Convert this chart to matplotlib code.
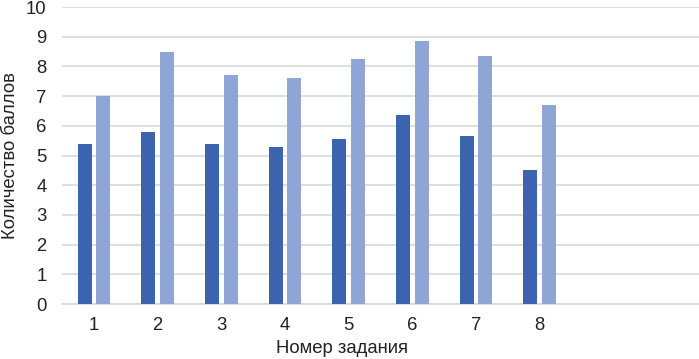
import matplotlib
matplotlib.use("Agg")
import matplotlib.pyplot as plt
import numpy as np

plt.rcParams["font.family"] = ["Liberation Sans", "DejaVu Sans"]

# task numbers (two trailing empty slots as in the original chart)
categories = ["1", "2", "3", "4", "5", "6", "7", "8", "", ""]
series_a = [5.4, 5.8, 5.4, 5.3, 5.57, 6.35, 5.65, 4.5]
series_b = [7.0, 8.5, 7.7, 7.6, 8.25, 8.85, 8.35, 6.7]
yticks = [0, 1, 2, 3, 4, 5, 6, 7, 8, 9, 10]

fig = plt.figure(figsize=(6.99, 3.59), dpi=100)
ax = fig.add_axes([0.0887, 0.1532, 0.9113, 0.8273])

x = np.arange(len(series_a))
w = 0.22
ax.bar(x - 0.146, series_a, width=w, color="#3c63ae", zorder=3)
ax.bar(x + 0.146, series_b, width=w, color="#8fa5d6", zorder=3)

ax.set_xlim(-0.5, len(categories) - 0.5)
ax.set_ylim(0, 10)
ax.set_yticks(yticks)
ax.set_xticks(np.arange(len(categories)))
ax.set_xticklabels(categories)
ax.grid(axis="y", color="#d9d9d9", linewidth=1.2, zorder=0)
for s in ["top", "right", "left"]:
    ax.spines[s].set_visible(False)
ax.spines["bottom"].set_color("#d9d9d9")
ax.spines["bottom"].set_linewidth(1.2)
ax.tick_params(axis="both", length=0, labelsize=13.3, colors="#222222")
ax.tick_params(axis="x", pad=9)
ax.tick_params(axis="y", pad=11)

ax.set_ylabel("Количество баллов", fontsize=13.3, color="#222222")
ax.yaxis.set_label_coords(-0.067, 0.5)
ax.set_xlabel("Номер задания", fontsize=13.3, color="#222222")
ax.xaxis.set_label_coords(0.44, -0.12)

plt.savefig("out.png", dpi=100)
